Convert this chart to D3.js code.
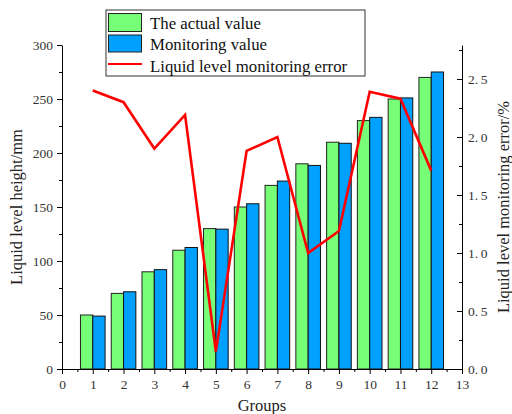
<!DOCTYPE html>
<html><head><meta charset="utf-8">
<script src="https://cdn.jsdelivr.net/npm/d3@7"></script>
<style>body{margin:0;background:#fff}svg{display:block}</style>
</head><body>
<svg id="c" width="512" height="414"></svg>
<script>
const groups = [1,2,3,4,5,6,7,8,9,10,11,12];
const actualValue = [50,70,90,110,130,150,170,190,210,230,250,270];
const monitoringValue = [49,71.5,92,112.5,129.5,153,174,188.5,209,233,251,275];
const errorPct = [2.40,2.30,1.90,2.19,0.15,1.88,2.00,1.00,1.19,2.39,2.33,1.71];
const leftTicks = [0,50,100,150,200,250,300];
const rightTicks = [0,0.5,1.0,1.5,2.0,2.5];
const xTicks = [0,1,2,3,4,5,6,7,8,9,10,11,12,13];
const seriesNames = ["The actual value","Monitoring value","Liquid level monitoring error"];
const colors = {actual:"#77ff77", monitor:"#00a0ff", error:"#ff0000"};

const svg = d3.select("#c");
const L=62, R=462, T=45, B=369;
const x = d3.scaleLinear().domain([0,13]).range([L,R]);
const y = d3.scaleLinear().domain([0,300]).range([B,T]);
const y2 = d3.scaleLinear().domain([0,2.793]).range([B,T]);
const font = "'Liberation Serif','Times New Roman',serif";
const bw = 0.4;

// bars
const g = svg.append("g");
groups.forEach((gr,i)=>{
  g.append("rect").attr("x",x(gr-bw)).attr("y",y(actualValue[i]))
    .attr("width",x(gr)-x(gr-bw)).attr("height",y(0)-y(actualValue[i]))
    .attr("fill",colors.actual).attr("stroke","#222").attr("stroke-width",1);
  g.append("rect").attr("x",x(gr)).attr("y",y(monitoringValue[i]))
    .attr("width",x(gr+bw)-x(gr)).attr("height",y(0)-y(monitoringValue[i]))
    .attr("fill",colors.monitor).attr("stroke","#111").attr("stroke-width",1);
});

// error line
svg.append("path").datum(groups.map((gr,i)=>[gr,errorPct[i]]))
  .attr("fill","none").attr("stroke",colors.error).attr("stroke-width",2.6)
  .attr("stroke-linejoin","miter")
  .attr("d",d3.line().x(d=>x(d[0])).y(d=>y2(d[1])));

function styleAxis(sel){
  sel.selectAll("text").attr("font-family",font).attr("font-size",13.5).attr("fill","#333");
  sel.selectAll("line,path").attr("stroke","#000");
}
// minor ticks
svg.append("g").attr("transform",`translate(${L},0)`)
  .call(d3.axisLeft(y).tickValues(d3.range(25,300,50)).tickSize(3).tickFormat(""))
  .call(s=>s.select(".domain").remove()).call(styleAxis);
svg.append("g").attr("transform",`translate(0,${B})`)
  .call(d3.axisBottom(x).tickValues(d3.range(0.5,13,1)).tickSize(3).tickFormat(""))
  .call(s=>s.select(".domain").remove()).call(styleAxis);
svg.append("g").attr("transform",`translate(${R},0)`)
  .call(d3.axisRight(y2).tickValues([0.25,0.75,1.25,1.75,2.25,2.75]).tickSize(-3).tickFormat(""))
  .call(s=>s.select(".domain").remove()).call(styleAxis);
// major axes
svg.append("g").attr("transform",`translate(${L},0)`)
  .call(d3.axisLeft(y).tickValues(leftTicks).tickSizeInner(5).tickSizeOuter(0).tickPadding(4))
  .call(styleAxis);
svg.append("g").attr("transform",`translate(0,${B})`)
  .call(d3.axisBottom(x).tickValues(xTicks).tickSizeInner(5).tickSizeOuter(0).tickPadding(5))
  .call(styleAxis);
svg.append("g").attr("transform",`translate(${R},0)`)
  .call(d3.axisRight(y2).tickValues(rightTicks).tickSizeInner(-5).tickSizeOuter(0).tickPadding(6)
    .tickFormat(d=>d3.format(".1f")(d).replace(".",".\u2009")))
  .call(styleAxis);

// axis titles
svg.append("text").attr("x",262).attr("y",411).attr("text-anchor","middle")
  .attr("font-family",font).attr("font-size",16.5).attr("fill","#222").text("Groups");
svg.append("text").attr("transform","translate(22,207) rotate(-90)").attr("text-anchor","middle")
  .attr("font-family",font).attr("font-size",16.5).attr("fill","#222").text("Liquid level height/mm");
svg.append("text").attr("transform","translate(509,207) rotate(-90)").attr("text-anchor","middle")
  .attr("font-family",font).attr("font-size",16.5).attr("fill","#222").text("Liquid level monitoring error/%");

// legend
const lg = svg.append("g");
lg.append("rect").attr("x",106).attr("y",10).attr("width",259).attr("height",66)
  .attr("fill","#fff").attr("stroke","#333").attr("stroke-width",1);
lg.append("rect").attr("x",108.5).attr("y",13.5).attr("width",33).attr("height",18)
  .attr("fill",colors.actual).attr("stroke","#222");
lg.append("rect").attr("x",108.5).attr("y",35).attr("width",33).attr("height",17)
  .attr("fill",colors.monitor).attr("stroke","#222");
lg.append("line").attr("x1",108).attr("x2",142).attr("y1",64).attr("y2",64)
  .attr("stroke",colors.error).attr("stroke-width",2);
[23,44,66].forEach((ty,i)=>{
  lg.append("text").attr("x",150).attr("y",ty).attr("dy","0.35em")
    .attr("font-family",font).attr("font-size",16.8).attr("fill","#111").text(seriesNames[i]);
});
</script>
</body></html>
